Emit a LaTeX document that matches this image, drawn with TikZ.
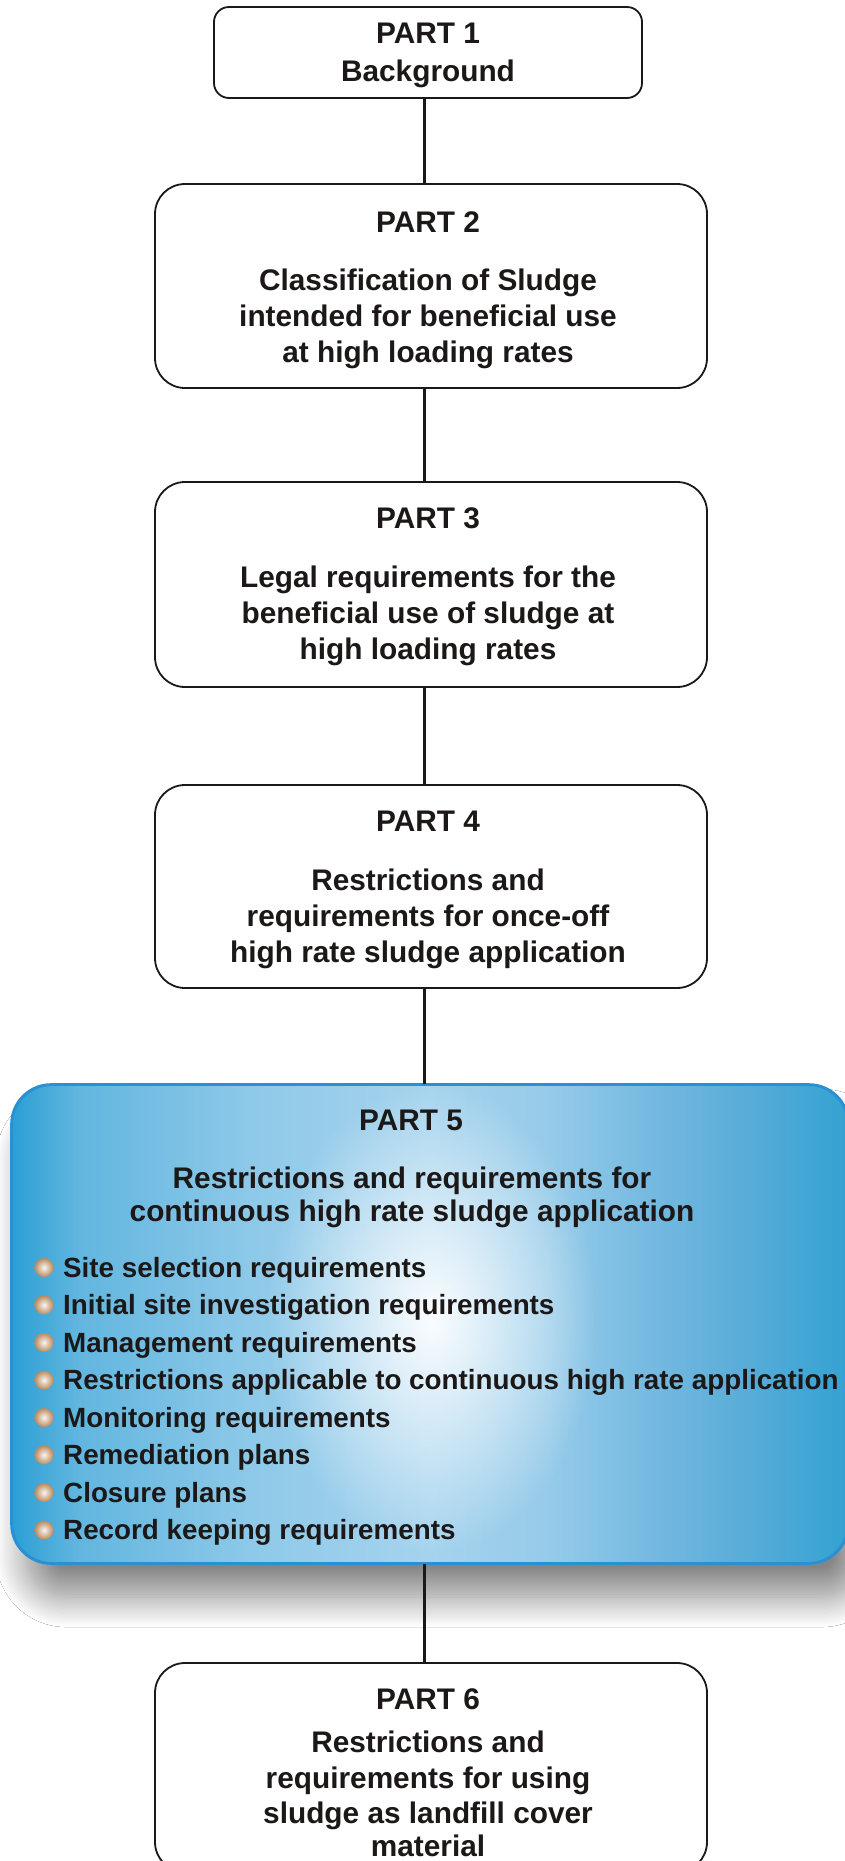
\documentclass[tikz,border=0pt]{standalone}
\usepackage{fontspec}
\setmainfont{Liberation Sans}
\usetikzlibrary{shadows.blur,fadings}
\definecolor{txt}{RGB}{28,24,24}
\definecolor{bA}{RGB}{42,159,212}
\definecolor{bB}{RGB}{98,182,223}
\definecolor{bC}{RGB}{144,202,233}
\definecolor{bD}{RGB}{165,211,238}
\definecolor{bE}{RGB}{150,203,233}
\definecolor{bF}{RGB}{118,186,225}
\definecolor{bG}{RGB}{88,172,216}
\definecolor{bH}{RGB}{51,162,210}
\definecolor{bord}{RGB}{43,143,212}
\definecolor{tanball}{RGB}{185,138,92}
\pgfdeclarehorizontalshading{partfive}{100bp}{color(0bp)=(bA); color(25bp)=(bA); color(29bp)=(bB); color(40bp)=(bC); color(50bp)=(bD); color(57bp)=(bE); color(63bp)=(bF); color(69bp)=(bG); color(75bp)=(bH); color(100bp)=(bH)}
\tikzfading[name=glowfade, inner color=transparent!0, outer color=transparent!100]
\begin{document}
\begin{tikzpicture}[x=1pt,y=-1pt,
  box/.style={draw=txt, line width=1.8pt, rounded corners=30pt, fill=white, inner sep=0pt},
  conn/.style={line width=3pt, draw=txt},
  lbl/.style={font=\fontsize{29.8}{36}\selectfont\bfseries, text=txt, anchor=base, inner sep=0pt},
  item/.style={font=\fontsize{27.8}{34}\selectfont\bfseries, text=txt, anchor=base west, inner sep=0pt},
]
\useasboundingbox (0,0) rectangle (845,1861);
\fill[white] (0,0) rectangle (845,1861);
\coordinate (axis) at (424,0);

% boxes
\node[box, rounded corners=15pt, minimum width=428pt, minimum height=91pt] (b1) at (428,52.5) {};
\node[box, minimum width=552pt, minimum height=204pt] (b2) at (431,286) {};
\node[box, minimum width=552pt, minimum height=205pt] (b3) at (431,584.5) {};
\node[box, minimum width=552pt, minimum height=203pt] (b4) at (431,886.5) {};
\node[box, minimum width=552pt, minimum height=209pt] (b6) at (431,1767.5) {};

% connectors
\draw[conn] (b1.south -| axis) -- (b2.north -| axis);
\draw[conn] (b2.south -| axis) -- (b3.north -| axis);
\draw[conn] (b3.south -| axis) -- (b4.north -| axis);

% part 5 box
\node[draw=bord, line width=1.8pt, rounded corners=40pt, shade, shading=partfive,
      minimum width=836pt, minimum height=478pt, inner sep=0pt,
      blur shadow={shadow xshift=14pt, shadow yshift=-34pt, shadow blur radius=30pt, shadow opacity=48, shadow blur steps=24}]
      (b5) at (430,1324) {};
\begin{scope}
  \clip[rounded corners=40pt] (b5.north west) rectangle (b5.south east);
  \fill[white, opacity=0.95, path fading=glowfade] (432,1318) ellipse [x radius=165, y radius=235];
\end{scope}
\draw[bord, line width=1.8pt, rounded corners=40pt] (b5.north west) rectangle (b5.south east);
\draw[conn] (b4.south -| axis) -- (b5.north -| axis);
\draw[conn] (b5.south -| axis) -- (b6.north -| axis);

% texts
\node[lbl] (t1a) at (428,43) {PART 1};
\node[lbl] (t1b) at (428,81) {Background};

\node[lbl] (t2a) at (428,232) {PART 2};
\node[lbl] (t2b) at (428,290) {Classification of Sludge};
\node[lbl] (t2c) at (428,326) {intended for beneficial use};
\node[lbl] (t2d) at (428,362) {at high loading rates};

\node[lbl] (t3a) at (428,528) {PART 3};
\node[lbl] (t3b) at (428,587) {Legal requirements for the};
\node[lbl] (t3c) at (428,623) {beneficial use of sludge at};
\node[lbl] (t3d) at (428,659) {high loading rates};

\node[lbl] (t4a) at (428,831) {PART 4};
\node[lbl] (t4b) at (428,890) {Restrictions and};
\node[lbl] (t4c) at (428,926) {requirements for once-off};
\node[lbl] (t4d) at (428,962) {high rate sludge application};

\node[lbl] (t5a) at (411,1130) {PART 5};
\node[lbl] (t5b) at (412,1188) {Restrictions and requirements for};
\node[lbl] (t5c) at (412,1221) {continuous high rate sludge application};

\foreach \txtline [count=\k from 0] in {Site selection requirements, Initial site investigation requirements, Management requirements, Restrictions applicable to continuous high rate application, Monitoring requirements, Remediation plans, Closure plans, Record keeping requirements}{
  \pgfmathsetmacro{\yy}{1277+37.5*\k}
  \shade[inner color=white!92!tanball, outer color=tanball] (44,\yy-9.5) circle (9.5);
  \node[item] (it\k) at (63,\yy) {\txtline};
}

\node[lbl] (t6a) at (428,1709) {PART 6};
\node[lbl] (t6b) at (428,1752) {Restrictions and};
\node[lbl] (t6c) at (428,1788) {requirements for using};
\node[lbl] (t6d) at (428,1823) {sludge as landfill cover};
\node[lbl] (t6e) at (428,1856) {material};
\end{tikzpicture}
\end{document}
